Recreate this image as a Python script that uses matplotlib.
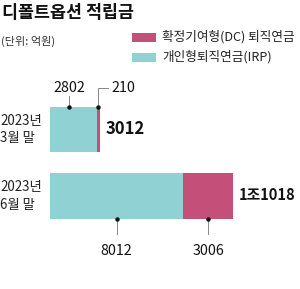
import matplotlib
matplotlib.use("Agg")
import matplotlib.pyplot as plt
from matplotlib.patches import Rectangle

plt.rcParams['font.family'] = ['Noto Sans CJK KR', 'DejaVu Sans']

title = "디폴트옵션 적립금"
unit = "(단위: 억원)"
categories = ["2023년\n3월 말", "2023년\n6월 말"]
series_names = ["확정기여형(DC) 퇴직연금", "개인형퇴직연금(IRP)"]
irp = [2802, 8012]
dc = [210, 3006]
totals_text = ["3012", "1조1018"]

teal = "#90d2d3"
pink = "#c4507a"

W, H = 300, 289
fig = plt.figure(figsize=(W / 100, H / 100), dpi=100)
ax = fig.add_axes([0, 0, 1, 1])
k = 183 / (irp[1] + dc[1])  # px per unit
ax.set_xlim(-50 / k, (W - 50) / k)
ax.set_ylim(H, 0)
ax.axis("off")

ys = [129.5, 196]
hs = [45, 46]
ax.barh(ys, irp, height=hs, color=teal, left=0)
ax.barh(ys, dc, height=hs, color=pink, left=irp)

def px(v):
    return v / k

# title & unit
ax.text(px(-48), 13, title, fontsize=12.5, fontweight='bold', va='center', ha='left', color='#111111')
ax.text(px(-49), 41, unit, fontsize=8, va='center', ha='left', color='#333333')

# legend
for i, (name, col) in enumerate(zip(series_names, [pink, teal])):
    yc = 37 + i * 20
    ax.add_patch(Rectangle((px(82), yc - 4.5), px(24), 9, color=col, lw=0))
    ax.text(px(112), yc, name, fontsize=9.1, va='center', ha='left', color='#222222')

# category labels
for y, c in zip(ys, categories):
    ax.text(px(-50), y, c, fontsize=9.6, va='center', ha='left', color='#222222', linespacing=1.3)

# totals
tot = [irp[i] + dc[i] for i in range(2)]
sizes = [12, 10.6]
for i in range(2):
    ax.text(tot[i] + px(6), ys[i] - 1, totals_text[i], fontsize=sizes[i], fontweight='bold',
            va='center', ha='left', color='#111111')

# annotations for first bar (above)
top0 = ys[0] - hs[0] / 2
x2802 = irp[0] / 2 + px(-4)
ax.plot([x2802, x2802], [top0, 96], color='#888888', lw=0.7)
ax.plot([x2802], [top0], 'o', color='#111111', ms=2.2)
ax.text(x2802, 88, str(irp[0]), fontsize=10.3, ha='center', va='center', color='#111111')
xd = irp[0] + dc[0] / 2
ax.plot([xd, xd, xd + px(10)], [top0, 88, 88], color='#888888', lw=0.7)
ax.plot([xd], [top0], 'o', color='#111111', ms=2.2)
ax.text(xd + px(13), 88, str(dc[0]), fontsize=10.3, ha='left', va='center', color='#111111')

# annotations for second bar (below)
bot1 = ys[1] + hs[1] / 2
for xc, v in [(irp[1] / 2, irp[1]), (irp[1] + dc[1] / 2, dc[1])]:
    ax.plot([xc, xc], [bot1, 234], color='#888888', lw=0.7)
    ax.plot([xc], [bot1], 'o', color='#111111', ms=2.2)
    ax.text(xc, 251, str(v), fontsize=10.3, ha='center', va='center', color='#111111')

fig.savefig("out.png", dpi=100, facecolor='white')
